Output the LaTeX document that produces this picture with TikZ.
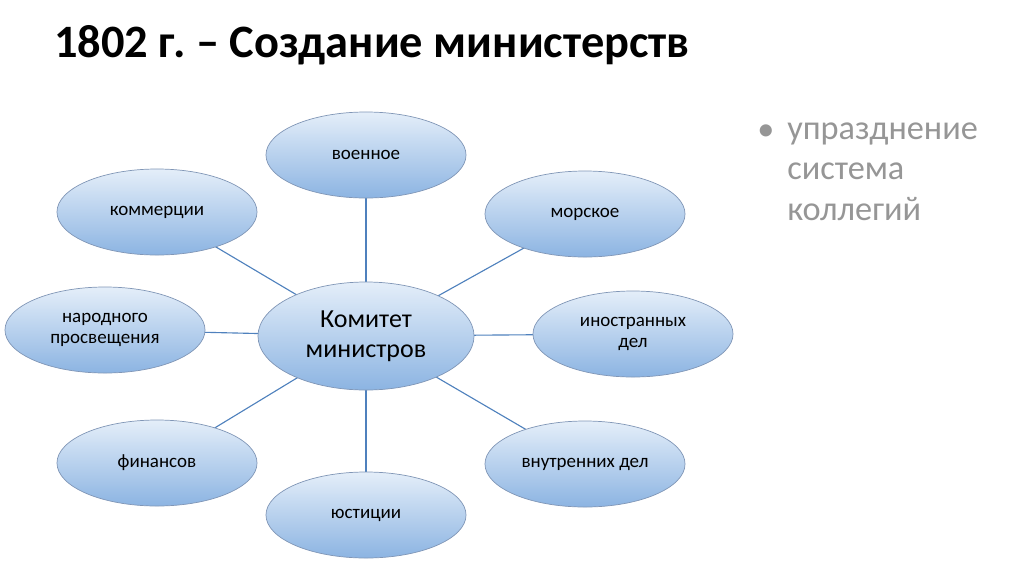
\documentclass[tikz,border=0pt]{standalone}
\usepackage{fontspec}
\setmainfont{Carlito}
\usepackage{xcolor}
\usetikzlibrary{shapes.geometric,backgrounds}

\definecolor{linkblue}{RGB}{79,129,189}
\definecolor{ovaltop}{RGB}{228,238,249}
\definecolor{ovalbot}{RGB}{140,180,226}
\definecolor{ovaledge}{RGB}{128,150,182}
\definecolor{notegray}{RGB}{150,150,150}

\begin{document}
\frenchspacing
\begin{tikzpicture}[
      x=0.025cm, y=-0.025cm,
      oval/.style={ellipse, draw=ovaledge, line width=0.5pt, top color=ovaltop,
        bottom color=ovalbot, minimum width=5cm, minimum height=2.15cm,
        inner sep=0pt, align=center, font=\fontsize{13.5}{15}\selectfont},
      hub/.style={oval, minimum width=5.4cm, minimum height=2.7cm,
        font=\fontsize{18.5}{21}\selectfont},
      link/.style={draw=linkblue, line width=0.8pt},
      note/.style={text=notegray, font=\fontsize{24.4}{28.5}\selectfont},
    ]
    \useasboundingbox (0,0) rectangle (1024,574);
    \node[anchor=base west, inner sep=0pt, font=\fontsize{33}{38}\bfseries]
      (title) at (54,57) {1802 г. – Создание министерств};

    \node[hub] (komitet) at (366,336) {Комитет\\министров};
    \node[oval] (voen) at (366,155) {военное};
    \node[oval] (komm) at (157,212) {коммерции};
    \node[oval] (mor) at (585,214) {морское};
    \node[oval] (nar) at (105,330) {народного\\просвещения};
    \node[oval] (inos) at (633,334) {иностранных\\дел};
    \node[oval] (fin) at (157,463) {финансов};
    \node[oval] (vnut) at (585,464) {внутренних дел};
    \node[oval] (yust) at (366,515) {юстиции};

    \begin{scope}[on background layer]
      \foreach \n in {voen,komm,mor,nar,inos,fin,vnut,yust}
        \draw[link] (komitet.center) -- (\n.center);
    \end{scope}

    % base of a multi-line node is its last line
    \node[note, anchor=base west, inner sep=0pt, align=left] (points) at (787,220)
      {упразднение\\система\\коллегий};
    \node[note, anchor=base, inner sep=0pt] (dot) at (766,140) {•};
  \end{tikzpicture}
\end{document}
